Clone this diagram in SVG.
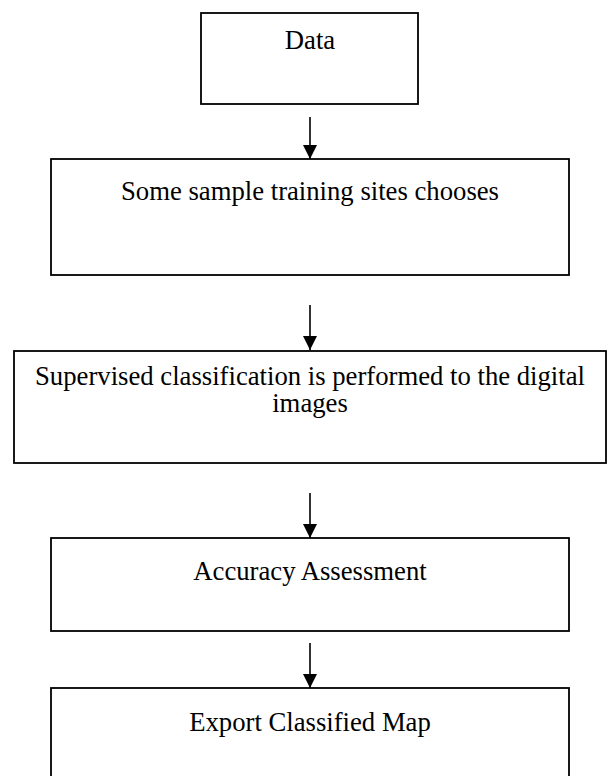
<svg xmlns="http://www.w3.org/2000/svg" width="608" height="776" viewBox="0 0 608 776">
<style>
.box{fill:#fff;stroke:#000;stroke-width:1.8}
.t{font-family:"Liberation Serif","Times New Roman",serif;font-size:26.7px;fill:#000;text-anchor:middle}
.c{stroke:#000;stroke-width:1.6;fill:none}
</style>
<defs>
<marker id="ah" markerUnits="userSpaceOnUse" markerWidth="16" markerHeight="14" refX="14" refY="7" orient="auto">
<path d="M0,0 L14,7 L0,14 Z" fill="#000"/>
</marker>
</defs>
<rect width="608" height="776" fill="#fff"/>
<g id="n1"><rect class="box" x="201" y="13" width="217" height="91"/><text class="t" x="310" y="49">Data</text></g>
<g id="n2"><rect class="box" x="51" y="159" width="518" height="116"/><text class="t" x="310" y="200">Some sample training sites chooses</text></g>
<g id="n3"><rect class="box" x="14" y="351" width="592" height="112"/><text class="t" x="310" y="385">Supervised classification is performed to the digital</text><text class="t" x="310" y="412">images</text></g>
<g id="n4"><rect class="box" x="51" y="538" width="518" height="93"/><text class="t" x="310" y="580">Accuracy Assessment</text></g>
<g id="n5"><rect class="box" x="51" y="688" width="518" height="100"/><text class="t" x="310" y="731">Export Classified Map</text></g>
<g id="connectors">
<line class="c" x1="310" y1="117" x2="310" y2="159" marker-end="url(#ah)"/>
<line class="c" x1="310" y1="305" x2="310" y2="350" marker-end="url(#ah)"/>
<line class="c" x1="310" y1="493" x2="310" y2="538" marker-end="url(#ah)"/>
<line class="c" x1="310" y1="643" x2="310" y2="688" marker-end="url(#ah)"/>
</g>
</svg>
